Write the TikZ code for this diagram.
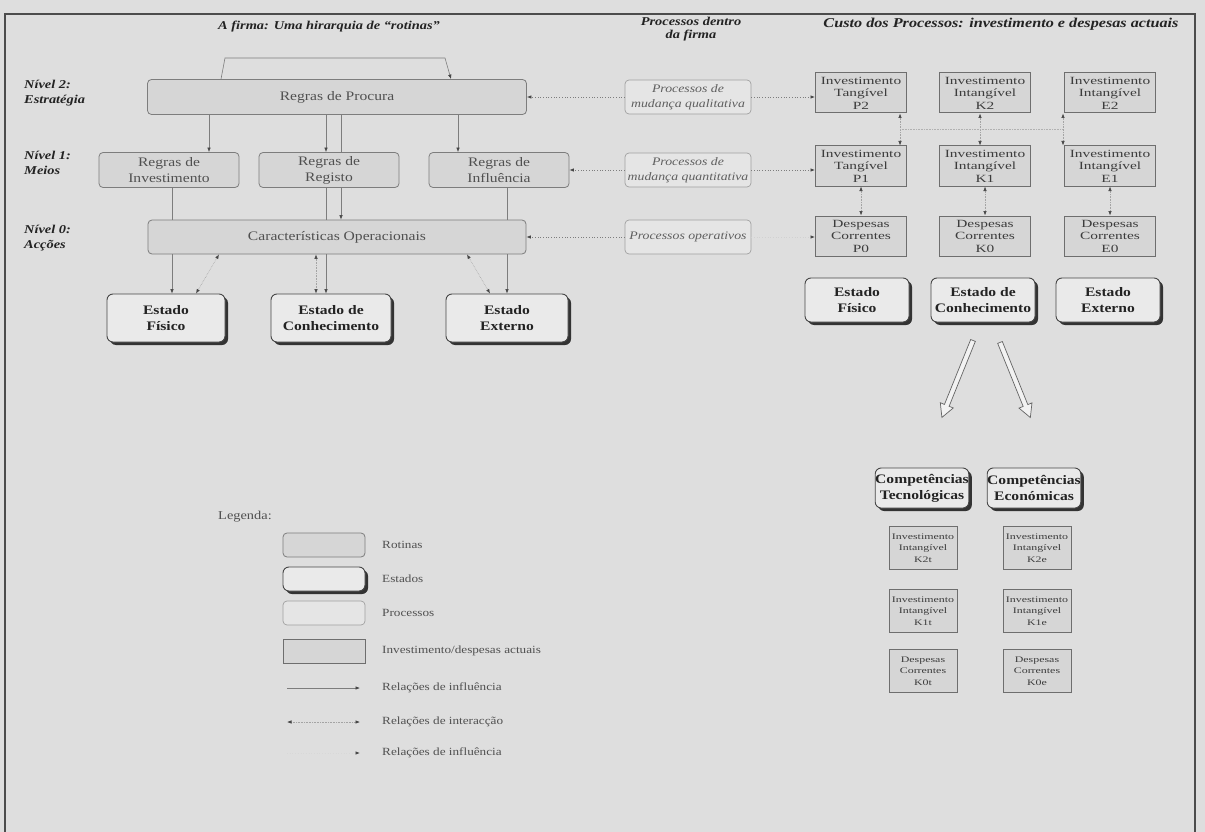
\documentclass[tikz,border=0pt]{standalone}
\usepackage{fontspec}
\setmainfont[FakeStretch=1.2]{Liberation Serif}
\newfontfamily\caixafont[FakeStretch=1.4]{Liberation Serif}
\usetikzlibrary{positioning,calc,arrows.meta,shadows}

\definecolor{papel}{RGB}{222,222,222}
\definecolor{escuro}{RGB}{35,35,35}
\definecolor{rotfundo}{RGB}{214,214,214}
\definecolor{rotlinha}{RGB}{125,125,125}
\definecolor{rottexto}{RGB}{80,80,80}
\definecolor{estfundo}{RGB}{234,234,234}
\definecolor{estlinha}{RGB}{70,70,70}
\definecolor{profundo}{RGB}{229,229,229}
\definecolor{prolinha}{RGB}{160,160,160}
\definecolor{protexto}{RGB}{95,95,95}
\definecolor{invfundo}{RGB}{214,214,214}
\definecolor{invlinha}{RGB}{110,110,110}
\definecolor{invtexto}{RGB}{60,60,60}
\definecolor{linha}{RGB}{125,125,125}
\definecolor{seta}{RGB}{70,70,70}

\begin{document}
\begin{tikzpicture}[x=1pt,y=-1pt]
    \tikzstyle{titulo}=[font=\fontsize{12}{13}\selectfont\bfseries\itshape, text=escuro, align=center, inner sep=0pt]
    \tikzstyle{nivel}=[font=\fontsize{12}{15}\selectfont\bfseries\itshape, text=escuro, align=left, anchor=west, inner sep=0pt]
    \tikzstyle{rotina}=[draw=rotlinha, fill=rotfundo, rounded corners=4pt, line width=0.8pt, text=rottexto, align=center, inner sep=0pt, font=\fontsize{13}{16}\selectfont]
    \tikzstyle{estado}=[draw=estlinha, fill=estfundo, rounded corners=6pt, line width=0.9pt, text=escuro, align=center, inner sep=0pt, font=\fontsize{13}{16}\selectfont\bfseries, drop shadow={shadow xshift=3pt, shadow yshift=-3pt, fill=black!80, opacity=1}]
    \tikzstyle{processo}=[draw=prolinha, fill=profundo, rounded corners=4pt, line width=0.7pt, text=protexto, align=center, inner sep=0pt, minimum width=126pt, minimum height=34pt, font=\fontsize{11.5}{15}\selectfont\itshape]
    \tikzstyle{custo}=[draw=invlinha, fill=invfundo, line width=1pt, text=invtexto, align=center, inner sep=0pt, minimum width=91pt, minimum height=40pt, font=\caixafont\fontsize{11}{12.5}\selectfont]
    \tikzstyle{custop}=[custo, minimum width=68pt, minimum height=43pt, font=\caixafont\fontsize{8.5}{11.5}\selectfont]
    \tikzstyle{legtexto}=[font=\fontsize{11}{13}\selectfont, text=rottexto, anchor=west, inner sep=0pt]
    \tikzstyle{infl}=[draw=linha, line width=0.6pt, -{Latex[length=4.5pt,width=3.5pt,color=seta]}]
    \tikzstyle{fio}=[draw=linha, line width=0.6pt]
    \tikzstyle{inter}=[draw=linha!70, line width=0.6pt, densely dotted, {Latex[length=4.5pt,width=3.5pt,color=seta]}-{Latex[length=4.5pt,width=3.5pt,color=seta]}]
    \tikzstyle{pont}=[draw=linha, line width=0.7pt, dotted, -{Latex[length=4.5pt,width=3.5pt,color=seta]}]
    \tikzstyle{oca}=[draw=linha!80!black, fill=papel!40!white, line width=0.7pt]

    \fill[papel] (0,0) rectangle (1205,832);
    \useasboundingbox (0,0) rectangle (1205,832);
    \draw[black!70, line width=1.4pt] (5,832) -- (5,14) -- (1195,14) -- (1195,832);

    \node[titulo] (tf) at (329,27) {A firma: Uma hirarquia de “rotinas”};
    \node[titulo] (tp) at (691,29) {Processos dentro\\da firma};
    \node[titulo, font=\fontsize{13.5}{15}\selectfont\bfseries\itshape] (tc) at (1001,24) {Custo dos Processos: investimento e despesas actuais};

    \node[nivel] (n2) at (24,93) {Nível 2:\\Estratégia};
    \node[nivel] (n1) at (24,163) {Nível 1:\\Meios};
    \node[nivel] (n0) at (24,238) {Nível 0:\\Acções};

    \node[rotina, minimum width=379pt, minimum height=35pt] (rp) at (337,97) {Regras de Procura};
    \node[rotina, minimum width=140pt, minimum height=35pt] (ri) at (169,170) {Regras de\\Investimento};
    \node[rotina, minimum width=140pt, minimum height=35pt] (rr) at (329,170) {Regras de\\Registo};
    \node[rotina, minimum width=140pt, minimum height=35pt] (rf) at (499,170) {Regras de\\Influência};
    \node[rotina, minimum width=378pt, minimum height=34pt] (co) at (337,237) {Características Operacionais};

    \node[estado, minimum width=118pt, minimum height=48pt] (ef) at (166,318) {Estado\\Físico};
    \node[estado, minimum width=120pt, minimum height=48pt] (ec) at (331,318) {Estado de\\Conhecimento};
    \node[estado, minimum width=122pt, minimum height=48pt] (ee) at (507,318) {Estado\\Externo};

    \node[processo] (pq) at (688,97) {Processos de\\mudança qualitativa};
    \node[processo] (pn) at (688,170) {Processos de\\mudança quantitativa};
    \node[processo] (po) at (688,237) {Processos operativos};

    \node[custo] (p2) at (861,93) {Investimento\\Tangível\\P2};
    \node[custo] (k2) at (985,93) {Investimento\\Intangível\\K2};
    \node[custo] (e2) at (1110,93) {Investimento\\Intangível\\E2};
    \node[custo] (p1) at (861,166) {Investimento\\Tangível\\P1};
    \node[custo] (k1) at (985,166) {Investimento\\Intangível\\K1};
    \node[custo] (e1) at (1110,166) {Investimento\\Intangível\\E1};
    \node[custo] (p0) at (861,236) {Despesas\\Correntes\\P0};
    \node[custo] (k0) at (985,236) {Despesas\\Correntes\\K0};
    \node[custo] (e0) at (1110,236) {Despesas\\Correntes\\E0};

    \node[estado, minimum width=104pt, minimum height=44pt] (sf) at (857,300) {Estado\\Físico};
    \node[estado, minimum width=104pt, minimum height=44pt] (sc) at (983,300) {Estado de\\Conhecimento};
    \node[estado, minimum width=104pt, minimum height=44pt] (se) at (1108,300) {Estado\\Externo};

    \node[estado, minimum width=92pt, minimum height=40pt] (ct) at (922,488) {Competências\\Tecnológicas};
    \node[estado, minimum width=92pt, minimum height=40pt] (ce) at (1034,488) {Competências\\Económicas};
    \node[custop] (k2t) at (923,548) {Investimento\\Intangível\\K2t};
    \node[custop] (k2e) at (1037,548) {Investimento\\Intangível\\K2e};
    \node[custop] (k1t) at (923,611) {Investimento\\Intangível\\K1t};
    \node[custop] (k1e) at (1037,611) {Investimento\\Intangível\\K1e};
    \node[custop] (k0t) at (923,671) {Despesas\\Correntes\\K0t};
    \node[custop] (k0e) at (1037,671) {Despesas\\Correntes\\K0e};

    \coordinate (bl) at (225,58);
    \coordinate (br) at (445,58);
    \draw[fio] ([xshift=-116pt]rp.north) -- (bl) -- (br);
    \draw[infl] (br) -- ([xshift=114pt]rp.north);

    \coordinate (xa) at (209,0);
    \coordinate (xb) at (326,0);
    \coordinate (xc) at (341,0);
    \coordinate (xd) at (458,0);
    \coordinate (xe) at (172,0);
    \coordinate (xf) at (507,0);
    \coordinate (xg) at (316,0);
    \draw[infl] (rp.south -| xa) -- (ri.north -| xa);
    \draw[infl] (rp.south -| xb) -- (rr.north -| xb);
    \draw[fio] (rp.south -| xc) -- (rr.north -| xc);
    \draw[infl] (rp.south -| xd) -- (rf.north -| xd);
    \draw[infl] (rr.south -| xc) -- (co.north -| xc);
    \draw[fio] (rr.south -| xb) -- (co.north -| xb);
    \draw[fio] (ri.south -| xe) -- (co.north -| xe);
    \draw[fio] (rf.south -| xf) -- (co.north -| xf);
    \draw[infl] (co.south -| xe) -- (ef.north -| xe);
    \draw[infl] (co.south -| xb) -- (ec.north -| xb);
    \draw[infl] (co.south -| xf) -- (ee.north -| xf);
    \draw[inter] (co.south -| xg) -- (ec.north -| xg);
    \draw[inter] ([xshift=-118pt]co.south) -- ([xshift=30pt]ef.north);
    \draw[inter] ([xshift=130pt]co.south) -- ([xshift=-17pt]ee.north);

    \draw[pont] (pq.west) -- (rp.east);
    \draw[pont] (pn.west) -- (rf.east);
    \draw[pont] (po.west) -- (co.east);
    \draw[pont] (pq.east) -- (pq.east -| p2.west);
    \draw[pont] (pn.east) -- (pn.east -| p1.west);
    \draw[pont, draw=linha!35] (po.east) -- (po.east -| p0.west);

    \coordinate (xp) at (900,0);
    \coordinate (xk) at (980,0);
    \coordinate (xq) at (1063,0);
    \draw[inter] (p2.south -| xp) -- (p1.north -| xp);
    \draw[inter] (k2.south -| xk) -- (k1.north -| xk);
    \draw[inter] (e2.south -| xq) -- (e1.north -| xq);
    \draw[linha!60, densely dotted, line width=0.6pt] ($(p2.south -| xp)!.5!(p1.north -| xp)$) -- ($(e2.south -| xq)!.5!(e1.north -| xq)$);
    \draw[inter] (p1.south) -- (p0.north);
    \draw[inter] (k1.south) -- (k0.north);
    \draw[inter] (e1.south) -- (e0.north);

    \begin{scope}[shift={($(sc.south)+(-10,18)$)}, rotate=-112]
        \draw[oca] (0,-2.5) -- (70,-2.5) -- (70,-7) -- (83,0) -- (70,7) -- (70,2.5) -- (0,2.5) -- cycle;
    \end{scope}
    \begin{scope}[shift={($(sc.south)+(17,20)$)}, rotate=-68]
        \draw[oca] (0,-2.5) -- (68,-2.5) -- (68,-7) -- (81,0) -- (68,7) -- (68,2.5) -- (0,2.5) -- cycle;
    \end{scope}

    \node[legtexto, font=\fontsize{12}{14}\selectfont] (lg) at (218,517) {Legenda:};
    \node[rotina, minimum width=82pt, minimum height=24pt] (lr) at (324,545) {};
    \node[estado, minimum width=82pt, minimum height=24pt] (le) at (324,579) {};
    \node[processo, minimum width=82pt, minimum height=24pt] (lp) at (324,613) {};
    \node[custo, minimum width=82pt, minimum height=24pt] (lk) at (324,651) {};
    \node[legtexto] (lrt) at (382,545) {Rotinas};
    \node[legtexto] (let) at (382,579) {Estados};
    \node[legtexto] (lpt) at (382,613) {Processos};
    \node[legtexto] (lkt) at (382,651) {Investimento/despesas actuais};
    \coordinate (la1) at (287,688);
    \coordinate (lb1) at (360,688);
    \coordinate (la2) at (287,722);
    \coordinate (lb2) at (360,722);
    \coordinate (la3) at (287,753);
    \coordinate (lb3) at (360,753);
    \draw[infl] (la1) -- (lb1);
    \draw[inter] (la2) -- (lb2);
    \draw[pont, draw=linha!30] (la3) -- (lb3);
    \node[legtexto] (l1t) at (382,688) {Relações de influência};
    \node[legtexto] (l2t) at (382,722) {Relações de interacção};
    \node[legtexto] (l3t) at (382,753) {Relações de influência};
\end{tikzpicture}
\end{document}
